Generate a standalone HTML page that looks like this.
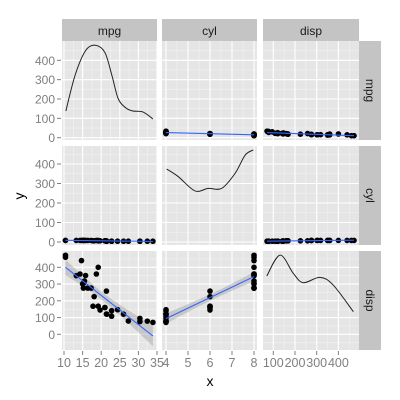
<!DOCTYPE html>
<html><head><meta charset="utf-8"><style>body{margin:0;background:#fff}svg{display:block;font-family:"Liberation Sans",sans-serif}</style></head>
<body>
<svg id="c" width="400" height="400"></svg>
<script>
const vars = ["mpg","cyl","disp"];
const mpg = [21,21,22.8,21.4,18.7,18.1,14.3,24.4,22.8,19.2,17.8,16.4,17.3,15.2,10.4,10.4,14.7,32.4,30.4,33.9,21.5,15.5,15.2,13.3,19.2,27.3,26,30.4,15.8,19.7,15,21.4];
const cyl = [6,6,4,6,8,6,8,4,4,6,6,8,8,8,8,8,8,4,4,4,4,8,8,8,8,4,4,4,8,6,8,4];
const disp = [160,160,108,258,360,225,360,146.7,140.8,167.6,167.6,275.8,275.8,275.8,472,460,440,78.7,75.7,71.1,120.1,318,304,350,400,79,120.3,95.1,351,145,301,121];
const densMpgX = [10.5,13,15.8,18.4,21,22.9,24.6,26.7,28.5,31.2,33.9];
const densMpgY = [138,324,450,478,440,320,200,153,138,133,97];
const densCylX = [4.03,4.56,5.32,5.92,6.53,7.14,7.6,7.97];
const densCylY = [374,335,262,275,275,352,446,472];
const densDispX = [70,131,192,238,315,376,469];
const densDispY = [348,473,364,308,340,294,135];
const xTicks = [[10,15,20,25,30,35],[4,5,6,7,8],[100,200,300,400]];
const yTicks = [0,100,200,300,400];

const data=[mpg,cyl,disp];
const dens=[[densMpgX,densMpgY],[densCylX,densCylY],[densDispX,densDispY]];
const colX=[[62,157],[162,257],[263,359]];
const rowY=[[41,140],[146,245],[251,350]];
const xf=[v=>64+(v-10)*3.72, v=>166+(v-4)*22, v=>273.3+(v-100)*0.217];
const yf=[v=>137.7-v*0.1935, v=>242-v*0.195, v=>334.3-v*0.1675];
const xMinor=[[12.5,17.5,22.5,27.5,32.5],[4.5,5.5,6.5,7.5],[50,150,250,350,450]];
const yMinor=[-50,50,150,250,350,450];
const NS="http://www.w3.org/2000/svg";
const svg=document.getElementById('c');
function el(t,a,p){const e=document.createElementNS(NS,t);for(const k in a)e.setAttribute(k,a[k]);(p||svg).appendChild(e);return e;}
function spline(pts){let d="M"+pts[0][0]+","+pts[0][1];for(let i=0;i<pts.length-1;i++){const p0=pts[Math.max(0,i-1)],p1=pts[i],p2=pts[i+1],p3=pts[Math.min(pts.length-1,i+2)];
d+=" C"+(p1[0]+(p2[0]-p0[0])/6)+","+(p1[1]+(p2[1]-p0[1])/6)+" "+(p2[0]-(p3[0]-p1[0])/6)+","+(p2[1]-(p3[1]-p1[1])/6)+" "+p2[0]+","+p2[1];}return d;}
for(let r=0;r<3;r++)for(let c=0;c<3;c++){
  const [x0,x1]=colX[c],[y0,y1]=rowY[r];
  const g=el('g',{});
  
  
  const cp='cp'+r+c;const cl=el('clipPath',{id:cp},g);el('rect',{x:x0,y:y0,width:x1-x0,height:y1-y0},cl);
  el('rect',{x:x0,y:y0,width:x1-x0,height:y1-y0,fill:'#e5e5e5'},g);
  const gg=el('g',{'clip-path':'url(#'+cp+')'},g);
  xMinor[c].forEach(v=>el('line',{x1:xf[c](v),x2:xf[c](v),y1:y0,y2:y1,stroke:'#f2f2f2','stroke-width':0.6},gg));
  yMinor.forEach(v=>el('line',{y1:yf[r](v),y2:yf[r](v),x1:x0,x2:x1,stroke:'#f2f2f2','stroke-width':0.6},gg));
  xTicks[c].forEach(v=>el('line',{x1:xf[c](v),x2:xf[c](v),y1:y0,y2:y1,stroke:'#fff','stroke-width':1.1},gg));
  yTicks.forEach(v=>el('line',{y1:yf[r](v),y2:yf[r](v),x1:x0,x2:x1,stroke:'#fff','stroke-width':1.1},gg));
  if(r===c){
    const [dx,dy]=dens[c];
    const p=el('path',{d:spline(dx.map((v,i)=>[xf[c](v),yf[r](dy[i])])),fill:'none',stroke:'#222','stroke-width':1},gg);
    
    
  } else {
    const X=data[c],Y=data[r],n=X.length;
    const mx=X.reduce((a,b)=>a+b)/n,my=Y.reduce((a,b)=>a+b)/n;
    let sxx=0,sxy=0;X.forEach((x,i)=>{sxx+=(x-mx)**2;sxy+=(x-mx)*(Y[i]-my);});
    const b=sxy/sxx,a=my-b*mx;let sse=0;X.forEach((x,i)=>sse+=(Y[i]-a-b*x)**2);
    const s=Math.sqrt(sse/(n-2));
    const xmin=Math.min(...X),xmax=Math.max(...X);const up=[],lo=[];
    for(let k=0;k<=40;k++){const x=xmin+(xmax-xmin)*k/40;const se=s*Math.sqrt(1/n+(x-mx)**2/sxx);up.push([xf[c](x),yf[r](a+b*x+2.04*se)]);lo.unshift([xf[c](x),yf[r](a+b*x-2.04*se)]);}
    const band=el('path',{d:'M'+up.concat(lo).map(p=>p.join(',')).join(' L')+'Z',fill:'#999','fill-opacity':0.4},gg);
    
    
    X.forEach((x,i)=>{const pt=el('circle',{cx:xf[c](x),cy:yf[r](Y[i]),r:2.8,fill:'#000'},gg);
      
      });
    const ln=el('line',{x1:xf[c](xmin),y1:yf[r](a+b*xmin),x2:xf[c](xmax),y2:yf[r](a+b*xmax),stroke:'#3366ff','stroke-width':1.1},gg);
    
    
  }
}
for(let c=0;c<3;c++){const [x0,x1]=colX[c];
  const s=el('rect',{x:x0,y:19,width:x1-x0,height:22,fill:'#c4c4c4'});
  
  
  const t=el('text',{x:(x0+x1)/2,y:35,'text-anchor':'middle','font-size':12,fill:'#1a1a1a'});t.textContent=vars[c];}
for(let r=0;r<3;r++){const [y0,y1]=rowY[r];
  const s=el('rect',{x:359,y:y0,width:22,height:y1-y0,fill:'#c4c4c4'});
  
  
  const cy=(y0+y1)/2;const t=el('text',{x:366,y:cy,'text-anchor':'middle','font-size':12,fill:'#1a1a1a',transform:'rotate(90 366 '+cy+')'});t.textContent=vars[r];}
for(let r=0;r<3;r++)yTicks.forEach(v=>{const y=yf[r](v);
  el('line',{x1:57,x2:61,y1:y,y2:y,stroke:'#7f7f7f'});
  const t=el('text',{x:55,y:y+4.5,'text-anchor':'end','font-size':12,fill:'#7f7f7f'});t.textContent=v;
  
  });
for(let c=0;c<3;c++)xTicks[c].forEach(v=>{const x=xf[c](v);
  el('line',{x1:x,x2:x,y1:351,y2:355,stroke:'#7f7f7f'});
  const t=el('text',{x:x,y:367,'text-anchor':'middle','font-size':12.5,fill:'#7f7f7f'});t.textContent=v;
  
  });
const xt=el('text',{x:210,y:386,'text-anchor':'middle','font-size':14,fill:'#000'});xt.textContent='x';


const yt=el('text',{x:24,y:196,'text-anchor':'middle','font-size':14,fill:'#000',transform:'rotate(-90 24 196)'});yt.textContent='y';


</script>
</body></html>
